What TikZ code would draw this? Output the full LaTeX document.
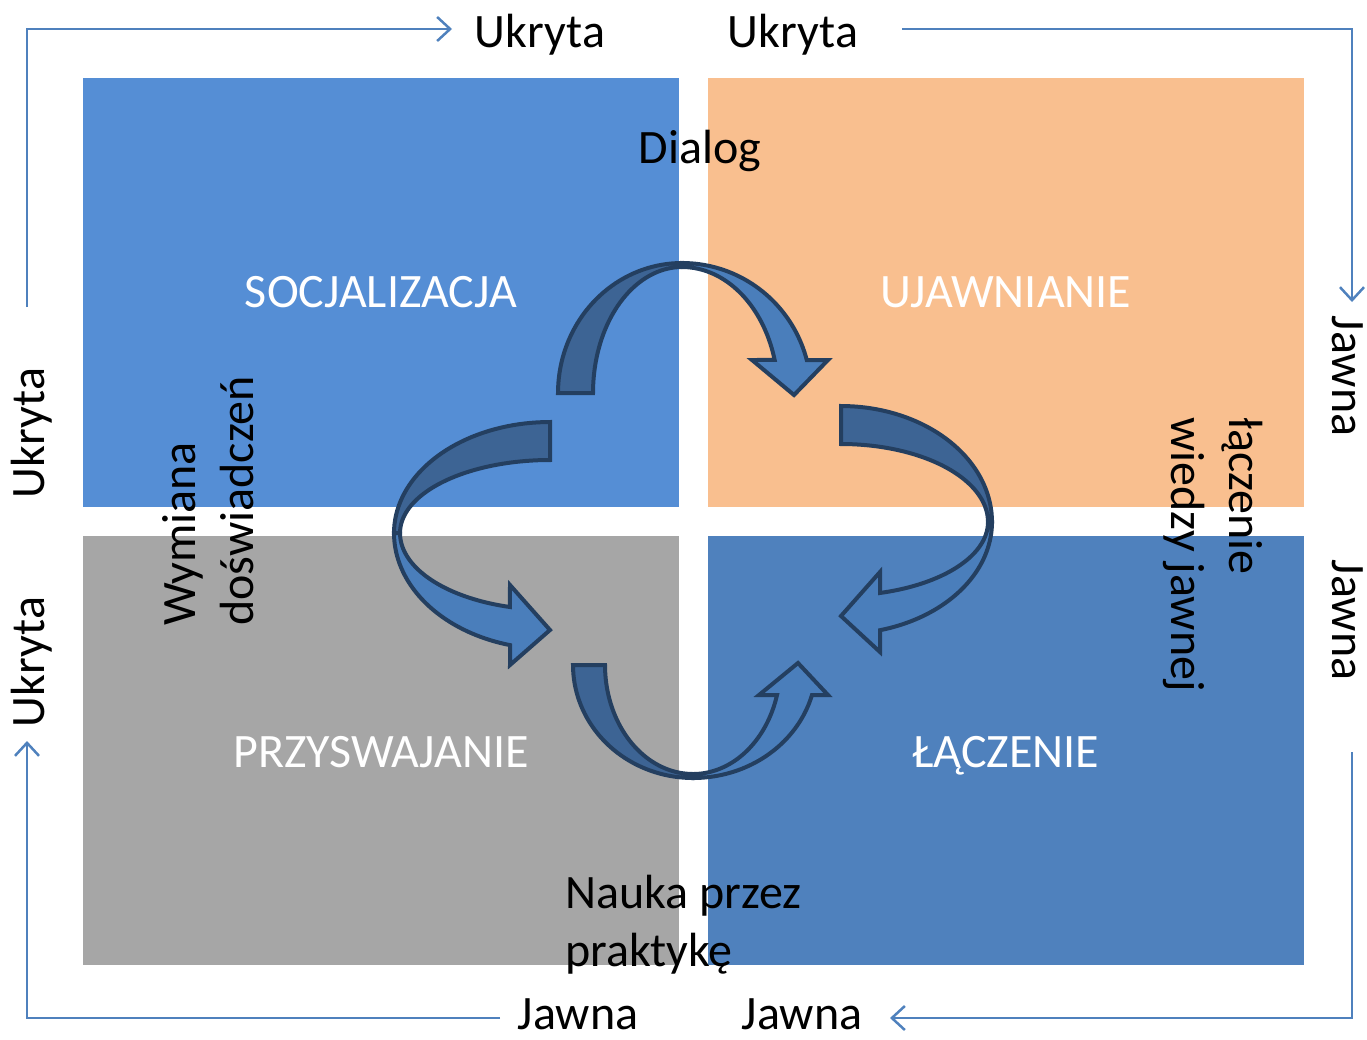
\documentclass[tikz,border=0pt]{standalone}
\usepackage{fontspec}
\setmainfont{Carlito}
\usetikzlibrary{arrows.meta}
\definecolor{qblue}{HTML}{558ED5}
\definecolor{qorange}{HTML}{F9BF8F}
\definecolor{qgray}{HTML}{A6A6A6}
\definecolor{qdeep}{HTML}{4F81BD}
\definecolor{arrlight}{HTML}{4A7EBB}
\definecolor{arrdark}{HTML}{3D6494}
\definecolor{arredge}{HTML}{243F60}
\definecolor{lineblue}{HTML}{4F81BD}
\begin{document}
\begin{tikzpicture}[x=1pt,y=-1pt,
  lbl/.style={font={\fontsize{48}{58}\selectfont}, inner sep=0pt},
  quadlbl/.style={lbl, text=white},
  quad/.style={inner sep=0pt, anchor=north west, minimum width=596pt, minimum height=429pt},
  conn/.style={draw=lineblue, line width=2.5pt, -{Straight Barb[length=13pt,width=24pt]}},
  ribdark/.style={fill=arrdark, draw=arredge, line width=4pt, line join=miter},
  riblight/.style={fill=arrlight, draw=arredge, line width=4pt, line join=miter}]

\useasboundingbox (0,0) rectangle (1367,1039);

% four quadrants
\node[quad, fill=qblue]   (soc) at (83,78)   {};
\node[quad, fill=qorange] (uja) at (708,78)  {};
\node[quad, fill=qgray]   (prz) at (83,536)  {};
\node[quad, fill=qdeep]   (lac) at (708,536) {};

\node[quadlbl, anchor=base] (soct) at (381,307)  {SOCJALIZACJA};
\node[quadlbl, anchor=base] (ujat) at (1006,307) {UJAWNIANIE};
\node[quadlbl, anchor=base] (przt) at (381,767)  {PRZYSWAJANIE};
\node[quadlbl, anchor=base] (lact) at (1006,767) {ŁĄCZENIE};

% curved ribbon arrows: darker tail half, lighter head half
% top
\filldraw[ribdark] plot[domain=180:90, samples=40] ({682+124*cos(\x)},{393-130*sin(\x)})
  -- plot[domain=90:180, samples=40] ({682+89*cos(\x)},{393-126*sin(\x)}) -- cycle;
\filldraw[riblight] plot[domain=90:14.7, samples=40] ({682+129*cos(\x)},{393-130*sin(\x)})
  -- (828,360) -- (794,395) -- (752,360)
  -- plot[domain=15.2:90, samples=40] ({682+96*cos(\x)},{393-126*sin(\x)}) -- cycle;
% left
\filldraw[ribdark] plot[domain=90:180, samples=40] ({550+156*cos(\x)},{533-111*sin(\x)})
  -- plot[domain=180:90, samples=40] ({550+150*cos(\x)},{533-73*sin(\x)}) -- cycle;
\filldraw[riblight] plot[domain=180:255.2, samples=40] ({550+156*cos(\x)},{533-116*sin(\x)})
  -- (510,665) -- (550,630) -- (510,585)
  -- plot[domain=254.5:180, samples=40] ({550+150*cos(\x)},{533-76.8*sin(\x)}) -- cycle;
% right
\filldraw[ribdark] plot[domain=90:0, samples=40] ({841+151*cos(\x)},{522-116*sin(\x)})
  -- plot[domain=0:90, samples=40] ({841+147*cos(\x)},{522-78*sin(\x)}) -- cycle;
\filldraw[riblight] plot[domain=0:-75, samples=40] ({841+151*cos(\x)},{522-112*sin(\x)})
  -- (880,652) -- (841,616) -- (880,572)
  -- plot[domain=-74.6:0, samples=40] ({841+147*cos(\x)},{522-73.6*sin(\x)}) -- cycle;
% bottom
\filldraw[ribdark] plot[domain=180:270, samples=40] ({693+120*cos(\x)},{665-113*sin(\x)})
  -- plot[domain=270:180, samples=40] ({693+88*cos(\x)},{665-109*sin(\x)}) -- cycle;
\filldraw[riblight] plot[domain=270:344.6, samples=40] ({693+123.4*cos(\x)},{665-113*sin(\x)})
  -- (828,695) -- (798,663) -- (759,695)
  -- plot[domain=344:270, samples=40] ({693+87.4*cos(\x)},{665-109*sin(\x)}) -- cycle;

% axis labels
\node[lbl, anchor=base] (uk1) at (540,47) {Ukryta};
\node[lbl, anchor=base] (uk2) at (793,47) {Ukryta};
\node[lbl, anchor=base, rotate=-90] (jw1) at (1332,376) {Jawna};
\node[lbl, anchor=base, rotate=-90] (jw2) at (1332,620) {Jawna};
\node[lbl, anchor=base] (jw3) at (578,1029) {Jawna};
\node[lbl, anchor=base] (jw4) at (802,1029) {Jawna};
\node[lbl, anchor=base, rotate=90] (uk3) at (44,433) {Ukryta};
\node[lbl, anchor=base, rotate=90] (uk4) at (44,662) {Ukryta};

% process labels
\node[lbl, anchor=base] (dial) at (700,163) {Dialog};
\node[lbl, rotate=90, align=left, anchor=west] (wym) at (208,626) {Wymiana\\doświadczeń};
\node[lbl, rotate=-90, align=left, anchor=west] (lacz) at (1213,417) {łączenie\\wiedzy jawnej};
\node[lbl, align=left, anchor=north west] (nauka) at (565,875) {Nauka przez\\praktykę};

% framing connectors
\coordinate (tla) at (27,307);  \coordinate (tlb) at (452,29);
\coordinate (tra) at (902,29);  \coordinate (trb) at (1352,302);
\coordinate (bra) at (1352,752); \coordinate (brb) at (890,1018);
\coordinate (bla) at (500,1018); \coordinate (blb) at (27,741);
\draw[conn] (tla) |- (tlb);
\draw[conn] (tra) -| (trb);
\draw[conn] (bra) |- (brb);
\draw[conn] (bla) -| (blb);
\end{tikzpicture}
\end{document}
